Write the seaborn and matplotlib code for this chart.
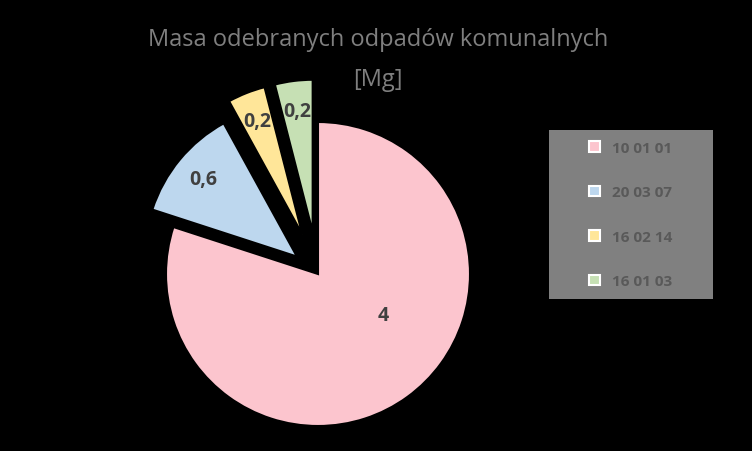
import matplotlib
matplotlib.use("Agg")
import matplotlib.pyplot as plt
import seaborn as sns

codes = ["10 01 01", "20 03 07", "16 02 14", "16 01 03"]
masses = [4, 0.6, 0.2, 0.2]
labels = ["4", "0,6", "0,2", "0,2"]
colors = ["#fcc5ce", "#bdd7ee", "#ffe699", "#c6e0b4"]
explode = [0, 0.18, 0.28, 0.28]

sns.set_style("white")
plt.rcParams["font.family"] = ["Open Sans", "DejaVu Sans"]

fig = plt.figure(figsize=(7.52, 4.52), dpi=100, facecolor="black")
W, H = 752, 452
cx, cy, r = 318, 275, 152
half = 175
ax = fig.add_axes([(cx - half) / W, 1 - (cy + half) / H, 2 * half / W, 2 * half / H])
ax.set_facecolor("black")

it = iter(labels)
wedges, texts, autotexts = ax.pie(
    masses, colors=colors, explode=explode, startangle=90, counterclock=False,
    autopct=lambda p: next(it), pctdistance=0.8,
    wedgeprops=dict(edgecolor="black", linewidth=1.5),
    textprops=dict(color="#404040", fontsize=14, fontweight="bold"))
autotexts[0].set_position((0.43, -0.27))
ax.set_xlim(-half / r, half / r)
ax.set_ylim(-half / r, half / r)
ax.set_aspect("equal")
ax.axis("off")

fig.text(378 / W, 1 - 40 / H, "Masa odebranych odpadów komunalnych", ha="center",
         va="center", color="#7f7f7f", fontsize=17)
fig.text(378 / W, 1 - 80 / H, "[Mg]", ha="center", va="center", color="#7f7f7f", fontsize=17)

lax = fig.add_axes([549 / W, 1 - 300 / H, 164 / W, 169 / H])
lax.set_facecolor("#808080")
lax.set_xticks([])
lax.set_yticks([])
for s in lax.spines.values():
    s.set_visible(False)
handles = [plt.Rectangle((0, 0), 1, 1, facecolor=c, edgecolor="white", linewidth=1.5) for c in colors]
lax.legend(handles, codes, loc="center", frameon=False, labelspacing=2.0,
           handlelength=0.7, handleheight=0.7, prop=dict(size=11, weight="bold"),
           labelcolor="#595959")

fig.savefig("out.png", dpi=100, facecolor="black")
